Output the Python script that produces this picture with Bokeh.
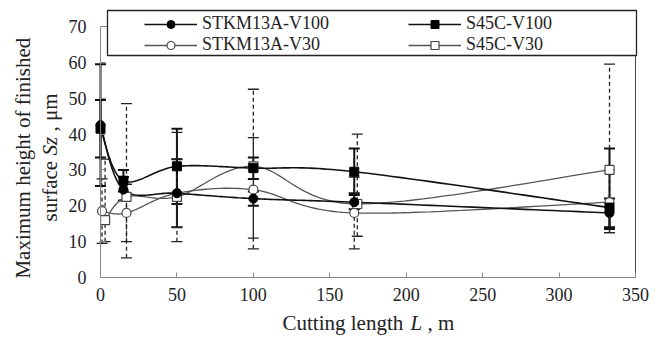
import numpy as np
from bokeh.plotting import figure
from bokeh.models import (ColumnDataSource, Whisker, TeeHead, Legend, LegendItem,
                          Label, BoxAnnotation, FixedTicker)
from bokeh.embed import file_html
from bokeh.resources import INLINE

# ---------------- data ----------------
x_ticks = [0, 50, 100, 150, 200, 250, 300, 350]
y_ticks = [0, 10, 20, 30, 40, 50, 60, 70]

stkm_v100_x = [0, 15, 50, 100, 166, 333]
stkm_v100_y = [42.5, 24.5, 23.5, 22.0, 21.0, 18.0]
stkm_v100_lo = [25.5, 21.5, 14.0, 20.0, 19.0, 14.0]
stkm_v100_hi = [59.5, 28.0, 33.0, 24.0, 23.0, 22.0]

s45c_v100_x = [0, 15, 50, 100, 166, 333]
s45c_v100_y = [41.5, 27.0, 31.0, 30.5, 29.5, 19.5]
s45c_v100_lo = [33.5, 24.0, 20.5, 27.5, 23.5, 13.5]
s45c_v100_hi = [49.5, 30.0, 41.5, 33.5, 36.0, 36.0]

stkm_v30_x = [1, 17, 50, 100, 166, 333]
stkm_v30_y = [18.5, 18.0, 23.5, 24.5, 18.0, 21.0]
stkm_v30_lo = [9.5, 10.0, 14.0, 11.0, 8.0, 12.5]
stkm_v30_hi = [27.5, 26.0, 33.0, 39.0, 28.0, 30.0]

s45c_v30_x = [3, 17, 50, 100, 168, 333]
s45c_v30_y = [16.0, 22.5, 22.5, 31.0, 20.5, 30.0]
s45c_v30_lo = [10.0, 5.5, 10.0, 8.0, 11.5, 12.5]
s45c_v30_hi = [33.0, 48.5, 40.5, 52.5, 40.0, 59.5]

labels = ["STKM13A-V100", "S45C-V100", "STKM13A-V30", "S45C-V30"]


def smooth(xs, ys, n=30):
    """Excel-style smoothed line path (Catmull-Rom Bezier) through the points."""
    P = np.column_stack([xs, ys]).astype(float)
    m = len(P)
    out = [P[0]]
    t = np.linspace(0, 1, n)[1:]
    for i in range(m - 1):
        p0 = P[i - 1] if i > 0 else P[i]
        p1, p2 = P[i], P[i + 1]
        p3 = P[i + 2] if i + 2 < m else P[i + 1]
        c1 = p1 + (p2 - p0) / 6.0
        c2 = p2 - (p3 - p1) / 6.0
        pts = (((1 - t) ** 3)[:, None] * p1 + (3 * (1 - t) ** 2 * t)[:, None] * c1
               + (3 * (1 - t) * t ** 2)[:, None] * c2 + (t ** 3)[:, None] * p2)
        out.extend(pts)
    out = np.array(out)
    return out[:, 0], out[:, 1]


FONT = "Liberation Serif"
TXT = "#222222"
W, H = 664, 338
# plot area placement (pixels): x 0..350 -> 100..635, y 0..70 -> 277..26
X0, X1, Y0, Y1 = 100.0, 635.0, 277.0, 26.0
kx = (X1 - X0) / 350.0
ky = (Y0 - Y1) / 70.0

p = figure(width=W, height=H,
           x_range=(-X0 / kx, (W - X0) / kx), y_range=(-(H - Y0) / ky, Y0 / ky),
           output_backend="svg", toolbar_location=None,
           min_border=0, min_border_left=0, min_border_right=0,
           min_border_top=0, min_border_bottom=0)
p.outline_line_alpha = 0
p.xgrid.visible = False
p.ygrid.visible = False
p.background_fill_color = "white"
p.border_fill_color = "white"

for ax, ticks in ((p.xaxis, x_ticks), (p.yaxis, y_ticks)):
    ax.ticker = FixedTicker(ticks=ticks)
    ax.fixed_location = 0
    ax.bounds = (ticks[0], ticks[-1])
    ax.minor_tick_line_alpha = 0
    ax.major_tick_in = 5
    ax.major_tick_out = 0
    ax.major_tick_line_color = "#888888"
    ax.axis_line_color = "#888888"
    ax.major_label_text_font = FONT
    ax.major_label_text_font_size = "18px"
    ax.major_label_text_color = TXT
p.xaxis.major_label_standoff = 10
p.yaxis.major_label_standoff = 14

# ---------------- error bars ----------------
series = [
    (stkm_v100_x, stkm_v100_y, stkm_v100_lo, stkm_v100_hi, "solid"),
    (s45c_v100_x, s45c_v100_y, s45c_v100_lo, s45c_v100_hi, "solid"),
    (stkm_v30_x, stkm_v30_y, stkm_v30_lo, stkm_v30_hi, "dashed"),
    (s45c_v30_x, s45c_v30_y, s45c_v30_lo, s45c_v30_hi, "dashed"),
]
for xs, ys, lo, hi, style in series:
    src = ColumnDataSource(dict(x=xs, lo=lo, hi=hi))
    if style == "solid":
        col, lw, dash = "#111111", 2.0, "solid"
    else:
        col, lw, dash = "#222222", 1.3, "4 3"
    w = Whisker(base="x", lower="lo", upper="hi", source=src, dimension="height",
                line_color=col, line_width=lw, line_dash=dash,
                upper_head=TeeHead(size=11, line_color=col, line_width=lw),
                lower_head=TeeHead(size=11, line_color=col, line_width=lw))
    p.add_layout(w)

# ---------------- frame pieces (right and top border) ----------------
p.segment(x0=[x_ticks[-1], x_ticks[0]], y0=[y_ticks[0], y_ticks[-1]],
          x1=[x_ticks[-1], x_ticks[-1]], y1=[y_ticks[-1], y_ticks[-1]],
          line_color=["#444444", "#888888"], line_width=1)

# ---------------- lines ----------------
sx, sy = smooth(stkm_v30_x, stkm_v30_y)
l3 = p.line(sx, sy, line_color="#555555", line_width=1.3)
sx, sy = smooth(s45c_v30_x, s45c_v30_y)
l4 = p.line(sx, sy, line_color="#555555", line_width=1.3)
sx, sy = smooth(stkm_v100_x, stkm_v100_y)
l1 = p.line(sx, sy, line_color="#111111", line_width=1.6)
sx, sy = smooth(s45c_v100_x, s45c_v100_y)
l2 = p.line(sx, sy, line_color="#111111", line_width=1.6)

# ---------------- markers ----------------
m3 = p.scatter(stkm_v30_x, stkm_v30_y, marker="circle", size=9,
               fill_color="white", line_color="#444444", line_width=1.2)
m4 = p.scatter(s45c_v30_x, s45c_v30_y, marker="square", size=9,
               fill_color="white", line_color="#444444", line_width=1.2)
m1 = p.scatter(stkm_v100_x, stkm_v100_y, marker="circle", size=9,
               fill_color="#000000", line_color="#000000")
m2 = p.scatter(s45c_v100_x, s45c_v100_y, marker="square", size=9,
               fill_color="#000000", line_color="#000000")

# legend box (screen units: from frame bottom-left; frame == whole canvas)
p.add_layout(BoxAnnotation(left=107, right=636, bottom=H - 55, top=H - 10,
                           left_units="screen", right_units="screen",
                           top_units="screen", bottom_units="screen",
                           fill_color="white", fill_alpha=1.0,
                           line_color="#222222", line_width=1.3, line_alpha=1.0))

common = dict(orientation="vertical", padding=0, spacing=-3, margin=0,
              glyph_width=53, glyph_height=20, label_height=20, label_standoff=5,
              label_text_font=FONT, label_text_font_size="18px", label_text_color=TXT,
              border_line_alpha=0, background_fill_alpha=0)
leg1 = Legend(items=[LegendItem(label=labels[0], renderers=[l1, m1]),
                     LegendItem(label=labels[2], renderers=[l3, m3])],
              location=(144, H - 55), **common)
leg2 = Legend(items=[LegendItem(label=labels[1], renderers=[l2, m2]),
                     LegendItem(label=labels[3], renderers=[l4, m4])],
              location=(408, H - 55), **common)
p.add_layout(leg1)
p.add_layout(leg2)

# ---------------- axis titles ----------------
lab = dict(x_units="screen", y_units="screen", text_font=FONT,
           text_font_size="21px", text_color=TXT)
# x title
XT = 16
p.add_layout(Label(x=282, y=XT, text="Cutting length", text_align="left",
                   text_baseline="alphabetic", **lab))
p.add_layout(Label(x=410, y=XT, text="L", text_align="left", text_font_style="italic",
                   text_baseline="alphabetic", **lab))
p.add_layout(Label(x=427, y=XT, text=", m", text_align="left",
                   text_baseline="alphabetic", **lab))
# y title (two lines, rotated)
p.add_layout(Label(x=22, y=H - 155, text="Maximum  height of finished", angle=np.pi / 2,
                   text_align="center", text_baseline="middle", **lab))
p.add_layout(Label(x=49, y=H - 221, text="surface", angle=np.pi / 2,
                   text_align="left", text_baseline="middle", **lab))
p.add_layout(Label(x=49, y=H - 155, text="Sz", angle=np.pi / 2, text_font_style="italic",
                   text_align="left", text_baseline="middle", **lab))
p.add_layout(Label(x=49, y=H - 131, text=", μm", angle=np.pi / 2,
                   text_align="left", text_baseline="middle", **lab))

open("out.html", "w").write(file_html(p, INLINE))
